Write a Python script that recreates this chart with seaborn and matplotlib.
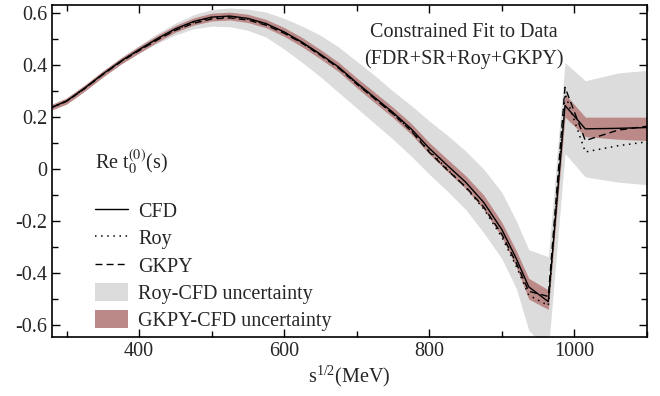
import matplotlib
matplotlib.use("Agg")
import matplotlib.pyplot as plt
import seaborn as sns
import numpy as np
import pandas as pd
from matplotlib.lines import Line2D
from matplotlib.patches import Patch

# ---------------- data ----------------
energy = [280, 300, 325, 350, 375, 400, 425, 450, 475, 500, 525, 550, 575, 600,
          625, 650, 675, 700, 725, 750, 775, 800, 825, 850, 875, 900, 920, 937,
          964, 987, 1015, 1060, 1100]

cfd = [0.238, 0.262, 0.312, 0.366, 0.416, 0.460, 0.502, 0.540, 0.568, 0.585,
       0.589, 0.580, 0.560, 0.528, 0.488, 0.442, 0.393, 0.332, 0.275, 0.218,
       0.155, 0.080, 0.014, -0.050, -0.128, -0.233, -0.345, -0.453, -0.510,
       0.245, 0.155, 0.157, 0.160]

roy = [0.237, 0.261, 0.311, 0.365, 0.415, 0.458, 0.500, 0.537, 0.565, 0.582,
       0.586, 0.577, 0.557, 0.525, 0.485, 0.439, 0.390, 0.328, 0.271, 0.213,
       0.148, 0.070, -0.001, -0.070, -0.153, -0.262, -0.375, -0.485, -0.525,
       0.290, 0.066, 0.090, 0.105]

gkpy = [0.238, 0.261, 0.310, 0.364, 0.413, 0.456, 0.497, 0.534, 0.561, 0.578,
        0.582, 0.574, 0.554, 0.523, 0.484, 0.438, 0.389, 0.327, 0.270, 0.212,
        0.147, 0.065, -0.004, -0.068, -0.146, -0.251, -0.362, -0.470, -0.490,
        0.315, 0.110, 0.150, 0.165]

roy_hi = [0.243, 0.268, 0.320, 0.376, 0.430, 0.476, 0.522, 0.562, 0.594, 0.614,
          0.620, 0.616, 0.604, 0.580, 0.550, 0.515, 0.470, 0.415, 0.360, 0.300,
          0.245, 0.185, 0.130, 0.070, 0.000, -0.090, -0.200, -0.310, -0.337,
          0.410, 0.340, 0.370, 0.380]
roy_lo = [0.233, 0.256, 0.304, 0.356, 0.404, 0.446, 0.484, 0.516, 0.540, 0.550,
          0.548, 0.534, 0.508, 0.462, 0.410, 0.355, 0.295, 0.235, 0.175, 0.115,
          0.050, -0.020, -0.085, -0.155, -0.245, -0.345, -0.460, -0.620, -0.700,
          0.060, -0.030, -0.050, -0.060]

gk_hi = [0.250, 0.274, 0.324, 0.378, 0.428, 0.473, 0.515, 0.553, 0.582, 0.600,
         0.604, 0.596, 0.576, 0.545, 0.506, 0.460, 0.411, 0.351, 0.295, 0.238,
         0.176, 0.102, 0.038, -0.025, -0.100, -0.205, -0.315, -0.420, -0.465,
         0.290, 0.200, 0.200, 0.200]
gk_lo = [0.228, 0.250, 0.300, 0.354, 0.404, 0.447, 0.489, 0.527, 0.554, 0.570,
         0.574, 0.564, 0.544, 0.511, 0.470, 0.424, 0.375, 0.313, 0.255, 0.198,
         0.134, 0.058, -0.010, -0.075, -0.155, -0.262, -0.378, -0.500, -0.540,
         0.200, 0.125, 0.115, 0.110]

x_ticks = [400, 600, 800, 1000]
x_tick_labels = ["400", "600", "800", "1000"]
y_ticks = [-0.6, -0.4, -0.2, 0.0, 0.2, 0.4, 0.6]
y_tick_labels = ["-0.6", "-0.4", "-0.2", "0", "0.2", "0.4", "0.6"]

legend_labels = ["CFD", "Roy", "GKPY", "Roy-CFD uncertainty", "GKPY-CFD uncertainty"]
title_lines = ["Constrained Fit to Data", "(FDR+SR+Roy+GKPY)"]

# ---------------- style ----------------
sns.set_style("ticks")
plt.rcParams["font.family"] = ["Liberation Serif", "DejaVu Serif"]
plt.rcParams["mathtext.fontset"] = "stix"
plt.rcParams["axes.unicode_minus"] = False
FS = 14.5

GRAY = "#dcdcdc"
RED = "#bb8a88"

df = pd.DataFrame({"E": energy, "CFD": cfd, "Roy": roy, "GKPY": gkpy})

fig = plt.figure(figsize=(6.6, 3.96), dpi=100)
ax = fig.add_axes([0.0788, 0.149, 0.9015, 0.838])

ax.fill_between(energy, roy_lo, roy_hi, color=GRAY, lw=0, zorder=1)
ax.fill_between(energy, gk_lo, gk_hi, color=RED, lw=0, zorder=2)

sns.lineplot(data=df, x="E", y="CFD", ax=ax, color="black", lw=1.0,
             linestyle="-", zorder=5)
sns.lineplot(data=df, x="E", y="Roy", ax=ax, color="black", lw=1.1,
             linestyle=(0, (1, 3)), zorder=4)
sns.lineplot(data=df, x="E", y="GKPY", ax=ax, color="black", lw=1.0,
             linestyle=(0, (5, 3)), zorder=4)

ax.set_xlim(280, 1100)
ax.set_ylim(-0.646, 0.631)
ax.set_xticks(x_ticks)
ax.set_xticklabels(x_tick_labels)
ax.set_xticks(np.arange(300, 1101, 100), minor=True)
ax.set_yticks(y_ticks)
ax.set_yticklabels(y_tick_labels)
ax.set_yticks(np.arange(-0.6, 0.61, 0.1), minor=True)
ax.tick_params(which="both", direction="in", top=True, right=True,
               labelsize=FS, width=1.0, color="black")
ax.tick_params(which="major", length=6)
ax.tick_params(which="minor", length=4)
for s in ax.spines.values():
    s.set_linewidth(1.2)
    s.set_color("black")

ax.set_ylabel("")
ax.set_xlabel(r"$\mathregular{s^{1/2}}$(MeV)", fontsize=FS, labelpad=2)

ax.text(339, 0.0, r"Re t$_0^{(0)}$(s)", fontsize=FS, ha="left", va="baseline")
ax.text(848, 0.508, title_lines[0], fontsize=FS, ha="center", va="baseline")
ax.text(848, 0.405, title_lines[1], fontsize=FS, ha="center", va="baseline")

handles = [
    Line2D([], [], color="black", lw=1.0, linestyle="-"),
    Line2D([], [], color="black", lw=1.1, linestyle=(0, (1, 3))),
    Line2D([], [], color="black", lw=1.0, linestyle=(0, (5, 3))),
    Patch(facecolor=GRAY, edgecolor="none"),
    Patch(facecolor=RED, edgecolor="none"),
]
ax.legend(handles, legend_labels, loc="lower left", bbox_to_anchor=(0.065, 0.005),
          frameon=False, fontsize=FS, handlelength=1.65, handleheight=1.0,
          labelspacing=0.32, handletextpad=0.5, borderpad=0.2, borderaxespad=0.0)

fig.savefig("out.png", dpi=100)
